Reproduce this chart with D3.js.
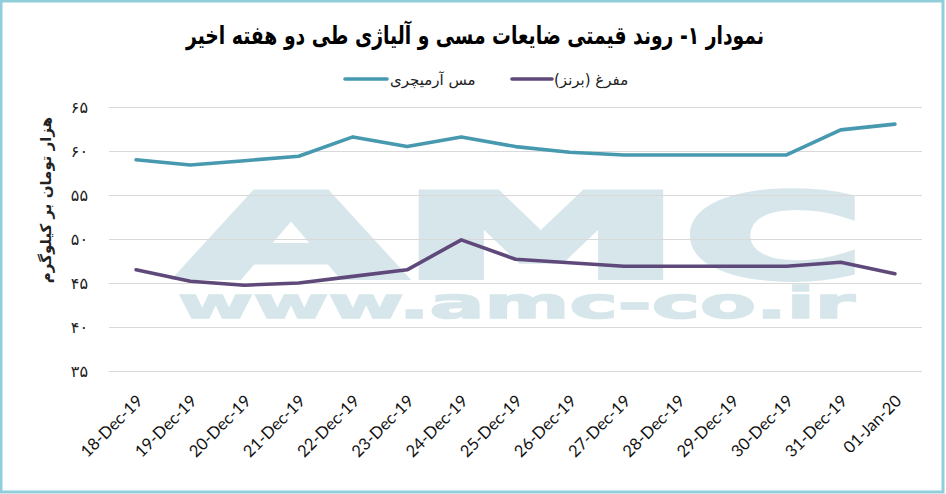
<!DOCTYPE html>
<html><head><meta charset="utf-8">
<script src="https://cdn.jsdelivr.net/npm/d3@7/dist/d3.min.js"></script>
<style>
html,body{margin:0;padding:0;background:#fff;}
svg{display:block;}
</style></head>
<body>
<svg id="chart" width="946" height="494"></svg>
<script>
const categories = ["18-Dec-19","19-Dec-19","20-Dec-19","21-Dec-19","22-Dec-19","23-Dec-19","24-Dec-19","25-Dec-19","26-Dec-19","27-Dec-19","28-Dec-19","29-Dec-19","30-Dec-19","31-Dec-19","01-Jan-20"];
const armatureCopper = [59.0,58.4,58.9,59.4,61.6,60.5,61.6,60.5,59.85,59.55,59.55,59.55,59.55,62.4,63.05];
const bronze = [46.5,45.2,44.75,45.0,45.75,46.5,49.9,47.7,47.3,46.9,46.9,46.9,46.9,47.35,46.05];
const yTicks = [35,40,45,50,55,60,65];
const seriesNames = ["مس آرمیچری","مفرغ (برنز)"];
const seriesColors = ["#4799b0","#5f497a"];
const titleText = "نمودار ۱- روند قیمتی ضایعات مسی و آلیاژی طی دو هفته اخیر";
const yTitle = "هزار تومان بر کیلوگرم";
const watermarkLetters = ["A","M","C"];
const watermarkUrl = "www.amc-co.ir";

const svg = d3.select("#chart");
const faDigits = s => String(s).replace(/\d/g, d => "۰۱۲۳۴۵۶۷۸۹"[d]);

// frame
svg.append("rect").attr("x",1).attr("y",1).attr("width",942).attr("height",491)
  .attr("fill","#fff").attr("stroke","#92cddc").attr("stroke-width",3);

const x = d3.scalePoint().domain(categories).range([109,922]).padding(0.5);
const y = d3.scaleLinear().domain([35,65]).range([371,107]);

// watermark
const wm = svg.append("g").attr("fill","#d6e6eb").attr("stroke","#d6e6eb");
const wmBox = [[180,222],[400,282],[684,180]];
watermarkLetters.forEach((ch,i) => {
  wm.append("text").attr("x",wmBox[i][0]).attr("y",277).attr("font-family","DejaVu Sans").attr("font-weight","bold")
    .attr("stroke-width",6).attr("stroke-linejoin","miter")
    .attr("font-size",116).attr("textLength",wmBox[i][1]).attr("lengthAdjust","spacingAndGlyphs").text(ch);
});
wm.append("text").attr("x",178).attr("y",318).attr("font-family","DejaVu Sans").attr("font-weight","bold")
  .attr("stroke-width",1.5)
  .attr("font-size",42).attr("textLength",677).attr("lengthAdjust","spacingAndGlyphs").text(watermarkUrl);

// grid
const yAxis = d3.axisLeft(y).tickValues(yTicks).tickSize(-(922-109)).tickFormat(d => faDigits(d)).tickPadding(21);
const gy = svg.append("g").attr("transform","translate(109,0)").call(yAxis);
gy.select(".domain").remove();
gy.selectAll(".tick line").attr("stroke","#d9d9d9").attr("stroke-width",1.2);
gy.selectAll(".tick text").attr("font-family","DejaVu Sans").attr("font-size",16).attr("fill","#222");

// x labels
const xAxis = d3.axisBottom(x).tickSize(0).tickPadding(0);
const gx = svg.append("g").attr("transform","translate(0,371)").call(xAxis);
gx.select(".domain").remove();
gx.selectAll(".tick text")
  .attr("font-family","Lato, 'Open Sans', sans-serif").attr("font-size",16.5).attr("fill","#111")
  .attr("text-anchor","end").attr("dy","0.35em")
  .attr("transform","translate(3,27) rotate(-45)");

// lines
const line = d3.line().x((d,i) => x(categories[i])).y(d => y(d));
[armatureCopper, bronze].forEach((s,k) => {
  svg.append("path").datum(s).attr("d", line).attr("fill","none")
    .attr("stroke", seriesColors[k]).attr("stroke-width",3.6)
    .attr("stroke-linejoin","round").attr("stroke-linecap","round");
});

// title
svg.append("text").attr("x",475).attr("y",44).attr("text-anchor","middle")
  .attr("font-family","DejaVu Sans").attr("font-weight","bold").attr("font-size",25)
  .attr("textLength",578).attr("lengthAdjust","spacingAndGlyphs")
  .attr("direction","rtl").text(titleText);

// legend
const legendItems = [{x0:345, x1:387, tx:390, k:0},{x0:512, x1:552, tx:554, k:1}];
legendItems.forEach(it => {
  svg.append("line").attr("x1",it.x0).attr("x2",it.x1).attr("y1",79).attr("y2",79)
    .attr("stroke",seriesColors[it.k]).attr("stroke-width",3.6).attr("stroke-linecap","round");
  svg.append("text").attr("x",it.tx).attr("y",85).attr("text-anchor","start")
    .attr("font-family","DejaVu Sans").attr("font-size",15).attr("fill","#222")
    .attr("direction","ltr").attr("unicode-bidi","embed").text(seriesNames[it.k]);
});

// y title
svg.append("text").attr("transform","translate(46,200) rotate(-90)").attr("text-anchor","middle")
  .attr("font-family","DejaVu Sans").attr("font-weight","bold").attr("font-size",15).attr("fill","#222")
  .attr("dy","0.35em").text(yTitle);
</script>
</body></html>
